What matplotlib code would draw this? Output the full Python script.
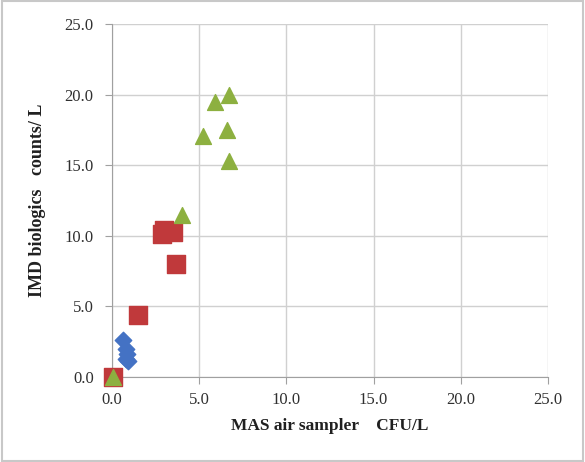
import matplotlib
matplotlib.use("Agg")
import matplotlib.pyplot as plt
from matplotlib.patches import Rectangle

plt.rcParams['font.family'] = ['Liberation Serif', 'DejaVu Serif']

blue_x = [0.65, 0.8, 0.9, 0.8, 0.95]
blue_y = [2.6, 2.0, 1.6, 1.3, 1.1]
red_x = [0.1, 1.5, 3.0, 2.9, 3.5, 3.7]
red_y = [0.0, 4.4, 10.4, 10.1, 10.3, 8.0]
green_x = [0.1, 4.0, 5.2, 5.9, 6.7, 6.6, 6.7]
green_y = [0.0, 11.5, 17.1, 19.5, 20.0, 17.5, 15.3]
ticks = [0, 5, 10, 15, 20, 25]
tick_labels = ["0.0", "5.0", "10.0", "15.0", "20.0", "25.0"]

fig = plt.figure(figsize=(5.85, 4.62), dpi=100)
fig.patches.append(Rectangle((0.003, 0.003), 0.994, 0.994, transform=fig.transFigure,
                             fill=False, edgecolor='#c8c8c8', linewidth=1.5))
ax = fig.add_axes([0.191, 0.184, 0.746, 0.764])
ax.set_xlim(0, 25)
ax.set_ylim(0, 25)
ax.set_xticks(ticks)
ax.set_xticklabels(tick_labels)
ax.set_yticks(ticks)
ax.set_yticklabels(tick_labels)
ax.grid(True, color='#d0d0d0', linewidth=1.0)
ax.set_axisbelow(True)
for s in ['top', 'right']:
    ax.spines[s].set_visible(False)
for s in ['left', 'bottom']:
    ax.spines[s].set_color('#a0a0a0')
ax.tick_params(axis='both', labelsize=12, length=5, color='#a0a0a0', pad=6,
               labelcolor='#303030')
ax.tick_params(axis='y', pad=8)

ax.scatter(blue_x, blue_y, marker='D', s=70, color='#4472c4', zorder=3, clip_on=False)
ax.scatter(red_x, red_y, marker='s', s=150, color='#c0393b', zorder=3, clip_on=False)
ax.scatter(green_x, green_y, marker='^', s=130, color='#8db040', zorder=4, clip_on=False)

ax.set_xlabel('MAS air sampler    CFU/L', fontsize=12.5, fontweight='bold', labelpad=7,
              color='#202020')
ax.set_ylabel('IMD biologics   counts/ L', fontsize=13, fontweight='bold', labelpad=13,
              color='#202020')

fig.savefig('out.png', dpi=100)
